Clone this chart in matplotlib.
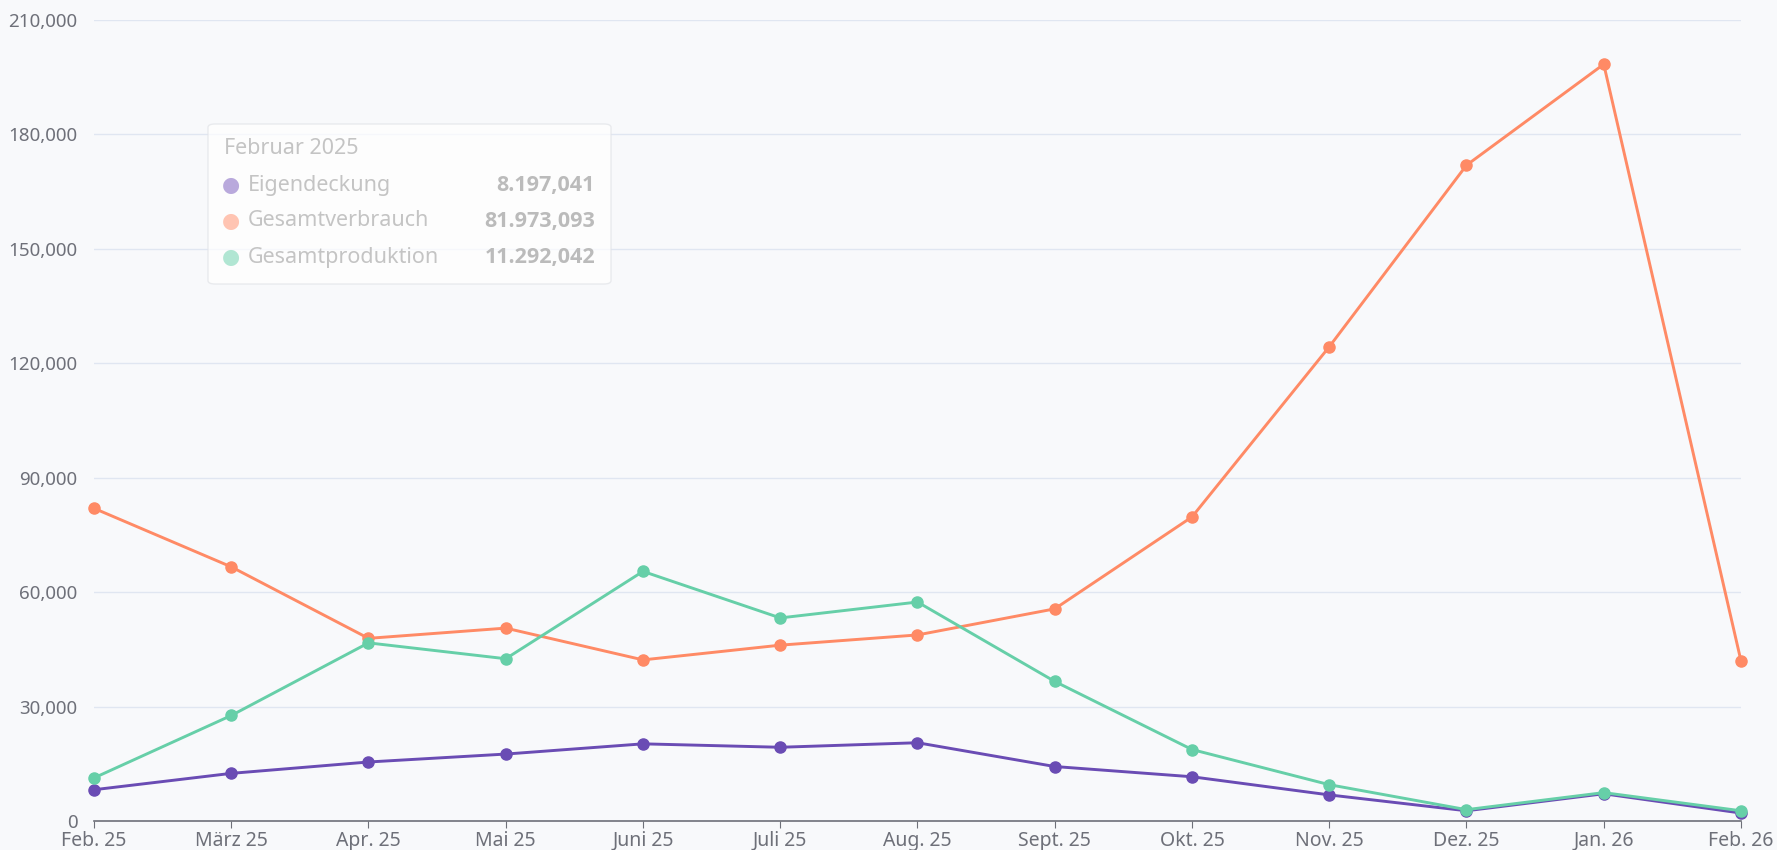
import numpy as np
import matplotlib.pyplot as plt
from matplotlib.patches import FancyBboxPatch
from matplotlib.ticker import FuncFormatter

plt.rcParams['font.family'] = ['Noto Sans', 'DejaVu Sans']

months = ["Feb. 25", "März 25", "Apr. 25", "Mai 25", "Juni 25", "Juli 25", "Aug. 25",
          "Sept. 25", "Okt. 25", "Nov. 25", "Dez. 25", "Jan. 26", "Feb. 26"]

eigendeckung = [8197, 12490, 15470, 17550, 20230, 19330, 20520,
                14280, 11600, 6840, 2680, 7140, 2080]
gesamtverbrauch = [81973, 66630, 47890, 50570, 42240, 46100, 48780,
                   55620, 79720, 124330, 171930, 198400, 41940]
gesamtproduktion = [11292, 27660, 46700, 42540, 65440, 53240, 57410,
                    36590, 18740, 9520, 2970, 7440, 2680]

series = [("Eigendeckung", eigendeckung, "#6a4cb4"),
          ("Gesamtverbrauch", gesamtverbrauch, "#ff8a65"),
          ("Gesamtproduktion", gesamtproduktion, "#66cfa8")]

tip_title = "Februar 2025"
tip_values = ["8.197,041", "81.973,093", "11.292,042"]
tip_colors = ["#b9a9dc", "#ffc4b2", "#b1e6d3"]

bg = "#f8f9fb"
fig = plt.figure(figsize=(17.77, 8.5), dpi=100, facecolor=bg)
ax = fig.add_axes([94 / 1777, 29 / 850, (1741 - 94) / 1777, (821 - 20) / 850])
ax.set_facecolor(bg)

x = np.arange(len(months))
for name, vals, col in series:
    ax.plot(x, vals, color=col, lw=2.1, marker="o", ms=8, clip_on=False, zorder=3)

ax.set_xlim(0, len(months) - 1)
ax.set_ylim(0, 210000)
ax.set_yticks(np.arange(0, 210001, 30000))
ax.yaxis.set_major_formatter(FuncFormatter(lambda v, p: f"{int(v):,}"))
ax.set_xticks(x)
ax.set_xticklabels(months)

ax.grid(axis="y", color="#e0e6f1", lw=1)
ax.set_axisbelow(True)
for s in ["top", "right", "left"]:
    ax.spines[s].set_visible(False)
ax.spines["bottom"].set_color("#6e7079")
ax.spines["bottom"].set_linewidth(1.2)
ax.tick_params(axis="y", length=0, pad=12, labelsize=13.5, labelcolor="#6e7079")
ax.tick_params(axis="x", length=5, color="#6e7079", pad=2, labelsize=14, labelcolor="#6e7079")

# tooltip box (figure pixel coords)
def fx(px):
    return px / 1777

def fy(py):
    return 1 - py / 850

box = FancyBboxPatch((fx(208), fy(284)), fx(611) - fx(208), fy(124) - fy(284),
                     boxstyle="round,pad=0,rounding_size=0.004",
                     transform=fig.transFigure, facecolor="white", alpha=0.72,
                     edgecolor="#e2e4e8", lw=1, zorder=10)
fig.patches.append(box)
fig.text(fx(224), fy(149), tip_title, fontsize=15.5, color="#c4c4c4", va="center", zorder=11)
rows_y = [185, 221, 257]
for (name, vals, col), val, tc, ry in zip(series, tip_values, tip_colors, rows_y):
    fig.text(fx(231), fy(ry), "●", fontsize=15, color=tc, va="center", ha="center", zorder=11)
    fig.text(fx(248), fy(ry), name, fontsize=15.5, color="#c4c4c4", va="center", zorder=11)
    fig.text(fx(595), fy(ry), val, fontsize=15.5, color="#bbbbbb", va="center", ha="right",
             fontweight="bold", family=['Open Sans', 'DejaVu Sans'], zorder=11)

fig.savefig("out.png", dpi=100, facecolor=bg)
